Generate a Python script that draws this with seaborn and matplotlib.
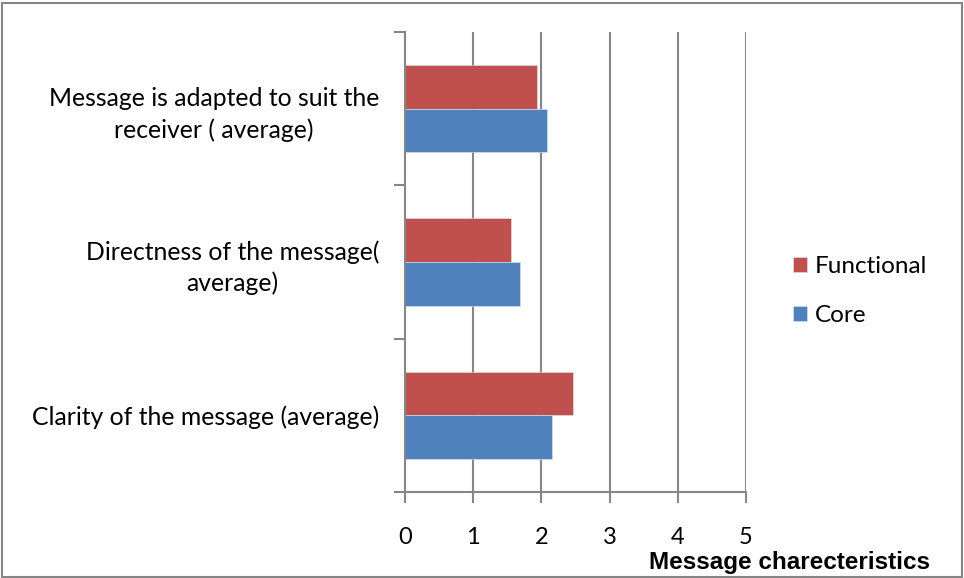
import matplotlib
matplotlib.use("Agg")
import matplotlib.pyplot as plt
import seaborn as sns
import pandas as pd
from matplotlib.patches import Rectangle

categories = [
    "Message is adapted to suit the\nreceiver ( average)",
    "Directness of the message(\naverage)",
    "Clarity of the message (average)",
]
functional = [1.94, 1.56, 2.47]
core = [2.08, 1.69, 2.16]
series = ["Functional", "Core"]
colors = ["#C0504D", "#4F81BD"]
x_ticks = [0, 1, 2, 3, 4, 5]

df = pd.DataFrame({
    "category": categories * 2,
    "value": functional + core,
    "series": [series[0]] * len(categories) + [series[1]] * len(categories),
})

sns.set_theme(style="white")
plt.rcParams["font.family"] = ["Lato", "DejaVu Sans"]
plt.rcParams["text.color"] = "black"
plt.rcParams["xtick.labelcolor"] = "black"
plt.rcParams["ytick.labelcolor"] = "black"

fig = plt.figure(figsize=(9.64, 5.78), dpi=100)
ax = fig.add_axes([0.4201, 0.1488, 0.3537, 0.7958])

sns.barplot(data=df, x="value", y="category", hue="series", order=categories,
            hue_order=series, palette=colors, orient="h", width=0.57,
            saturation=1, edgecolor="#dde6f2", linewidth=0.4, ax=ax, legend=True)

grid_c = "#868686"
ax.set_xlim(0, 5)
ax.set_ylim(2.5, -0.5)
ax.set_xticks(x_ticks)
ax.set_xticklabels([str(t) for t in x_ticks], fontsize=17)
for t in x_ticks[1:]:
    ax.axvline(t, color=grid_c, lw=1.5, zorder=0)

# category labels centred on bands, tick marks on band boundaries
ax.tick_params(axis="y", which="major", length=0, pad=18.5, labelsize=17.8)
for lab in ax.get_yticklabels():
    lab.set_multialignment("center")
    lab.set_linespacing(1.4)
ax.set_yticks([-0.5, 0.5, 1.5, 2.5], minor=True)
ax.tick_params(axis="y", which="minor", length=8, width=1.5, color=grid_c, left=True)
ax.tick_params(axis="x", which="major", length=8, width=1.5, color=grid_c, bottom=True,
               pad=17)

for side in ["top", "right"]:
    ax.spines[side].set_visible(False)
for side in ["left", "bottom"]:
    ax.spines[side].set_color(grid_c)
    ax.spines[side].set_linewidth(1.5)

ax.set_xlabel("")
ax.set_ylabel("")

handles, labels = ax.get_legend_handles_labels()
fig.legend(handles, labels, loc="center left", bbox_to_anchor=(0.823, 0.496),
           frameon=False, fontsize=17.5, handlelength=0.55, handleheight=0.55,
           handletextpad=0.35, labelspacing=1.15, borderpad=0, borderaxespad=0)
ax.get_legend().remove()

fig.text(0.8185, 0.027, "Message charecteristics", fontsize=17.5, fontweight="bold",
         family=["Liberation Sans", "DejaVu Sans"],
         ha="center", va="center")

fig.patches.append(Rectangle((2 / 964, 1 / 578), 960 / 964, 574 / 578,
                             transform=fig.transFigure, fill=False,
                             edgecolor="#868686", linewidth=1.5))

fig.savefig("out.png", dpi=100)
